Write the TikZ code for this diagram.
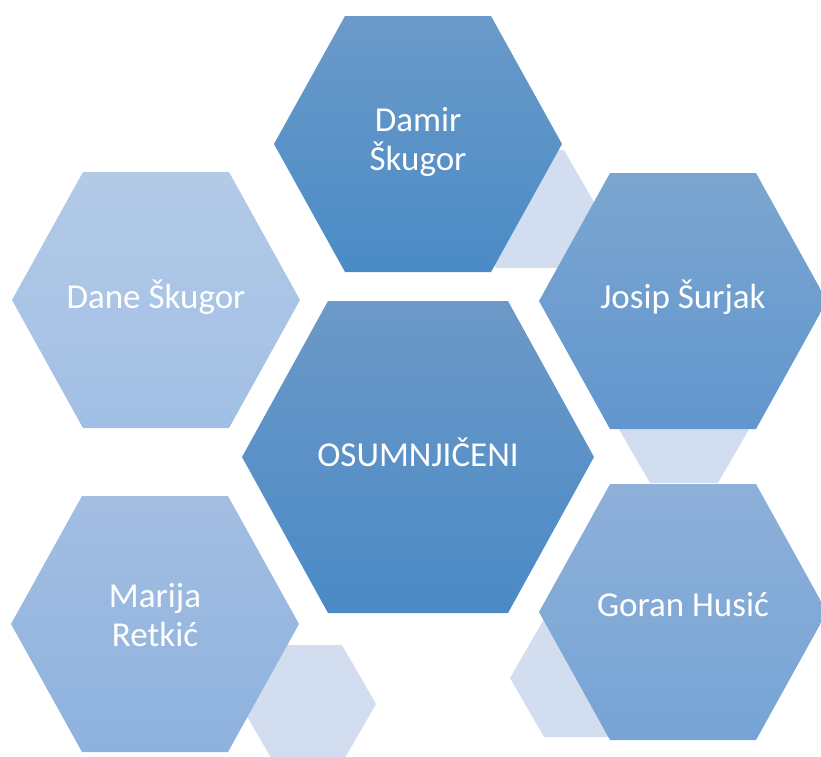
\documentclass[tikz,border=0pt]{standalone}
\usepackage{fontspec}
\setmainfont{Carlito}

\definecolor{accent}{RGB}{210,222,239}
\definecolor{centertop}{RGB}{108,153,199}
\definecolor{centerbot}{RGB}{74,138,198}
\definecolor{damirtop}{RGB}{106,154,201}
\definecolor{damirbot}{RGB}{74,139,198}
\definecolor{josiptop}{RGB}{124,166,208}
\definecolor{josipbot}{RGB}{97,150,206}
\definecolor{gorantop}{RGB}{142,176,217}
\definecolor{goranbot}{RGB}{118,164,213}
\definecolor{marijatop}{RGB}{163,190,225}
\definecolor{marijabot}{RGB}{141,178,222}
\definecolor{danetop}{RGB}{179,202,231}
\definecolor{danebot}{RGB}{161,191,229}

% centre x, centre y, half width, half top edge, half height
\newcommand{\hexcell}[5]{(#1-#3,#2) -- (#1-#4,#2-#5) -- (#1+#4,#2-#5) -- (#1+#3,#2) -- (#1+#4,#2+#5) -- (#1-#4,#2+#5) -- cycle}

\tikzset{
    person/.style = {text=white, align=center, font=\fontsize{35}{38.5}\selectfont},
    small/.style = {fill=accent}
}

\begin{document}
\begin{tikzpicture}[x=1pt, y=-1pt]

    \useasboundingbox (0,0) rectangle (821,756);
    \clip (0,0) rectangle (821,756);

    % small accents
    \path [small] \hexcell{530}{209}{68}{34}{59};
    \path [small] \hexcell{684}{424}{68}{34}{59};
    \path [small] \hexcell{578}{678}{68}{34}{59};
    \path [small] \hexcell{308}{704}{68}{34}{59};

    % main cells
    \path [top color=damirtop, bottom color=damirbot] \hexcell{418}{144}{144}{73}{128};
    \path [top color=danetop, bottom color=danebot] \hexcell{156}{300}{144}{73}{128};
    \path [top color=josiptop, bottom color=josipbot] \hexcell{683}{301}{144}{73}{128};
    \path [top color=centertop, bottom color=centerbot] \hexcell{418}{457}{176}{90}{156};
    \path [top color=marijatop, bottom color=marijabot] \hexcell{155}{624}{144}{73}{128};
    \path [top color=gorantop, bottom color=goranbot] \hexcell{683}{612}{144}{73}{128};

    \node [person] (center) at (418,452) {OSUMNJIČENI};
    \node [person] (damir) at (418,142) {Damir\\Škugor};
    \node [person] (dane) at (156,297) {Dane Škugor};
    \node [person] (josip) at (683,297) {Josip Šurjak};
    \node [person] (marija) at (155,615) {Marija\\Retkić};
    \node [person] (goran) at (683,605) {Goran Husić};

\end{tikzpicture}
\end{document}
